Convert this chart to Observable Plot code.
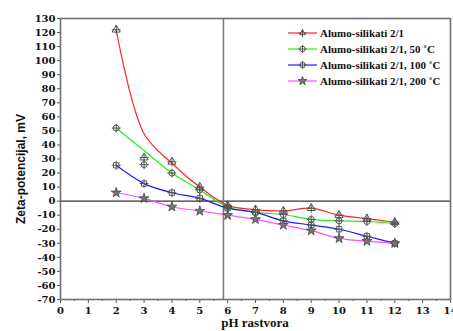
<!DOCTYPE html>
<html><head><meta charset="utf-8">
<script src="https://cdn.jsdelivr.net/npm/d3@7"></script>
<script src="https://cdn.jsdelivr.net/npm/@observablehq/plot@0.6"></script>
<style>
body{margin:0;background:#fff;}
#wrap{position:relative;width:453px;height:331px;overflow:hidden;background:#fff;}
#wrap svg{display:block;}
.lbl{position:absolute;white-space:nowrap;color:#111;font-weight:bold;}
#xlab{font-family:"Liberation Serif",serif;font-size:13px;line-height:14px;left:255px;top:316px;transform:translateX(-50%);}
#ylab{font-family:"Liberation Sans",Arial,sans-serif;font-size:12px;left:21px;top:169px;transform:translate(-50%,-50%) rotate(-90deg);}
#legend{position:absolute;left:0;top:0;}
</style></head><body><div id="wrap"></div>
<script>
const pH = [2,3,4,5,6,7,8,9,10,11,12];
const seriesNames = ["Alumo-silikati 2/1", "Alumo-silikati 2/1, 50 \u02DAC", "Alumo-silikati 2/1, 100 \u02DAC", "Alumo-silikati 2/1, 200 \u02DAC"];
// measured points (markers)
const zeta21   = [122, 31, 28, 10, -3, -6, -7, -5, -10, -12.5, -15];
const zeta50   = [52, 26, 20, 8, -4, -8, -9.5, -13, -14, -14.5, -16];
const zeta100  = [25.5, 12.5, 6, 2, -5, -8, -14, -17, -20, -25, -30];
const zeta200  = [6, 2, -4, -7, -10, -13, -17, -21, -26.5, -28.5, -30];
// smoothed fit lines at each pH
const fit21  = [122, 48, 27, 10, -3, -6, -7, -5, -10, -12.5, -15];
const fit50  = [52, 36, 20, 8, -4, -8, -9.5, -13, -14, -14.5, -16];
const fit100 = zeta100;
const fit200 = zeta200;
const xTicks = [0,1,2,3,4,5,6,7,8,9,10,11,12,13,14];
const xMinor = [0.5,1.5,2.5,3.5,4.5,5.5,6.5,7.5,8.5,9.5,10.5,11.5,12.5,13.5];
const yTicks = [-70,-60,-50,-40,-30,-20,-10,0,10,20,30,40,50,60,70,80,90,100,110,120,130];
const isoPH = [5.85];
const colors = ["#ff2424", "#22ee22", "#1c1cff", "#ff50ff"];
const symbols = ["triangle", "circle", "square", "star"];

const pts = [zeta21, zeta50, zeta100, zeta200];
const fits = [fit21, fit50, fit100, fit200];
const rows = [], fitRows = [];
pts.forEach((arr, i) => arr.forEach((v, j) => rows.push({pH: pH[j], v, s: seriesNames[i], i})));
fits.forEach((arr, i) => arr.forEach((v, j) => fitRows.push({pH: pH[j], v, s: seriesNames[i], i})));

const mk = "#555";
const dotMarks = [];
symbols.forEach((sym, i) => {
  const d = rows.filter(r => r.i === i);
  if (sym === "star") {
    dotMarks.push(Plot.dot(d, {x: "pH", y: "v", symbol: "star", r: 3.1, fill: "#777", stroke: "#444", strokeWidth: 0.8}));
  } else {
    dotMarks.push(Plot.dot(d, {x: "pH", y: "v", symbol: sym, r: 3, fill: "none", stroke: mk, strokeWidth: 1}));
    dotMarks.push(Plot.dot(d, {x: "pH", y: "v", symbol: "plus", r: 3, stroke: mk, strokeWidth: 1}));
  }
});

const chart = Plot.plot({
  width: 453, height: 331,
  marginLeft: 60, marginRight: 3, marginTop: 18, marginBottom: 32,
  style: {fontFamily: "DejaVu Serif", fontWeight: "bold", fontSize: "10px", color: "#111", background: "transparent", overflow: "visible"},
  x: {domain: [0, 14]},
  y: {domain: [-70, 130]},
  color: {domain: seriesNames, range: colors},
  marks: [
    Plot.axisX({ticks: xTicks, tickFormat: d => String(d), tickSize: 4, tickPadding: 3, label: null, stroke: "#555"}),
    Plot.axisX({ticks: xMinor, tickFormat: () => "", tickSize: 2, label: null, stroke: "#555"}),
    Plot.axisY({ticks: yTicks, tickFormat: d => String(d), tickSize: 3, tickPadding: 2, label: null, stroke: "#555"}),
    Plot.ruleY([0], {stroke: "#333", strokeWidth: 1.2}),
    Plot.ruleX(isoPH, {stroke: "#777", strokeWidth: 1.5}),
    Plot.line(fitRows, {x: "pH", y: "v", z: "s", stroke: "s", curve: "catmull-rom", strokeWidth: 1.2}),
    ...dotMarks,
    Plot.frame({stroke: "#707070", strokeWidth: 1.6})
  ]
});
const wrap = document.getElementById("wrap");
wrap.appendChild(chart);

// legend (inside the plot, top-right)
const lg = d3.select(wrap).append("svg").attr("id", "legend").attr("width", 453).attr("height", 120);
const lx0 = 288, lx1 = 317, ly0 = 33, ldy = 16;
seriesNames.forEach((name, i) => {
  const y = ly0 + i * ldy;
  const g = lg.append("g");
  g.append("line").attr("x1", lx0).attr("x2", lx1).attr("y1", y).attr("y2", y).attr("stroke", colors[i]).attr("stroke-width", 1.2);
  const cx = (lx0 + lx1) / 2;
  if (symbols[i] === "star") {
    g.append("path").attr("d", d3.symbol(d3.symbolStar, 24)()).attr("transform", `translate(${cx},${y})`).attr("fill", "#777").attr("stroke", "#444").attr("stroke-width", 0.8);
  } else {
    const st = {triangle: d3.symbolTriangle2, circle: d3.symbolCircle, square: d3.symbolSquare2}[symbols[i]];
    g.append("path").attr("d", d3.symbol(st, 24)()).attr("transform", `translate(${cx},${y})`).attr("fill", "white").attr("stroke", mk);
    g.append("path").attr("d", d3.symbol(d3.symbolPlus, 24)()).attr("transform", `translate(${cx},${y})`).attr("fill", "none").attr("stroke", mk);
  }
  g.append("text").attr("x", 320).attr("y", y).attr("dy", "0.35em").text(name)
    .attr("font-family", "Liberation Serif").attr("font-weight", "bold").attr("font-size", 11).attr("fill", "#111");
});

const xl = document.createElement("div"); xl.className = "lbl"; xl.id = "xlab"; xl.textContent = "pH rastvora"; wrap.appendChild(xl);
const yl = document.createElement("div"); yl.className = "lbl"; yl.id = "ylab"; yl.textContent = "Zeta-potencijal, mV"; wrap.appendChild(yl);
</script>
</body></html>
